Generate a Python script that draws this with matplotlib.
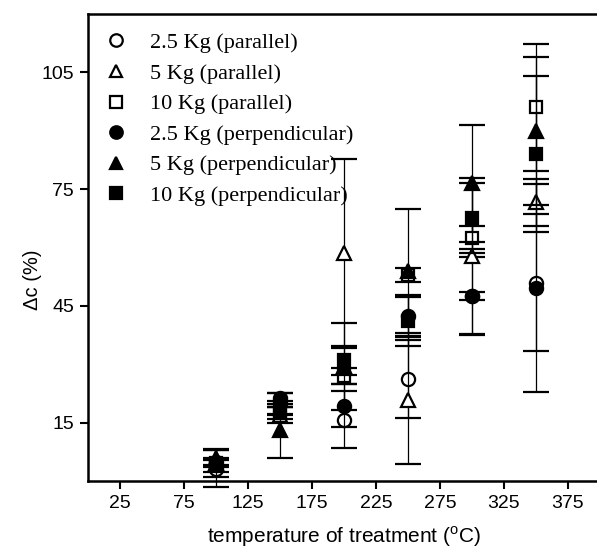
import matplotlib
matplotlib.use("Agg")
import matplotlib.pyplot as plt
from matplotlib.lines import Line2D
import numpy as np

plt.rcParams['mathtext.fontset'] = 'custom'
plt.rcParams['mathtext.rm'] = 'Liberation Sans'
plt.rcParams['font.family'] = ['Liberation Sans', 'DejaVu Sans']

temps = [100, 150, 200, 250, 300, 350]

labels = ["2.5 Kg (parallel)", "5 Kg (parallel)", "10 Kg (parallel)",
          "2.5 Kg (perpendicular)", "5 Kg (perpendicular)", "10 Kg (perpendicular)"]

par_25 = [3.2, 20.0, 15.8, 26.2, 47.5, 51.0]
par_25_err = [4.8, 2.7, 7.3, 10.0, 10.0, 17.5]
par_5 = [4.5, 17.0, 58.5, 20.7, 57.8, 71.6]
par_5_err = [3.6, 2.0, 24.2, 16.3, 20.0, 6.0]
par_10 = [4.5, 18.0, 27.0, 53.0, 62.5, 96.0]
par_10_err = [1.0, 1.0, 2.0, 1.8, 3.0, 16.4]
perp_25 = [4.8, 21.2, 19.3, 42.5, 47.5, 49.5]
perp_25_err = [1.0, 1.5, 5.5, 5.2, 1.0, 26.7]
perp_5 = [6.0, 13.2, 29.5, 54.0, 76.5, 90.0]
perp_5_err = [2.0, 7.4, 11.2, 16.0, 15.0, 19.0]
perp_10 = [4.0, 17.5, 31.0, 41.0, 67.7, 84.0]
perp_10_err = [1.6, 1.6, 3.8, 6.4, 9.0, 20.0]

series = [
    (par_25, par_25_err, 'o', 'white'),
    (par_5, par_5_err, '^', 'white'),
    (par_10, par_10_err, 's', 'white'),
    (perp_25, perp_25_err, 'o', 'black'),
    (perp_5, perp_5_err, '^', 'black'),
    (perp_10, perp_10_err, 's', 'black'),
]

fig = plt.figure(figsize=(5.97, 5.51), dpi=100)
ax = fig.add_axes([88/597, 70/551, 512/597, 467/551])

handles = []
for i, ((vals, errs, m, fc), lab) in enumerate(zip(series, labels)):
    ms = 9.5 if m != 's' else 8.5
    eb = ax.errorbar(temps, vals, yerr=errs, fmt=m, mfc=fc, mec='black', mew=1.6,
                     ms=ms, ecolor='black', elinewidth=0.9, capsize=9.5, capthick=0.9,
                     zorder=3 + i)
    for art in eb.lines[1]:
        art.set_clip_on(False)
    for art in eb.lines[2]:
        art.set_clip_on(False)
    eb.lines[0].set_clip_on(False)
    handles.append(Line2D([], [], linestyle='none', marker=m, mfc=fc, mec='black',
                          mew=1.6, ms=ms - 0.5))

ax.set_xlim(0, 400)
ax.set_ylim(0, 120)
ax.set_xticks([25, 75, 125, 175, 225, 275, 325, 375])
ax.set_yticks([15, 45, 75, 105])
ax.tick_params(direction='out', length=6, width=1.5, labelsize=14, pad=4)
for s in ['left', 'bottom', 'top']:
    ax.spines[s].set_linewidth(1.8)
ax.spines['right'].set_visible(False)

ax.set_xlabel(r'temperature of treatment (${}^{\mathrm{o}}$C)', fontsize=15, labelpad=9)
ax.set_ylabel('Δc (%)', fontsize=14.5)
ax.yaxis.set_label_coords(-0.09, 0.43)

leg = ax.legend(handles, labels, loc='upper left', bbox_to_anchor=(0.038, 0.96),
                frameon=False, prop={'family': 'Liberation Serif', 'size': 16},
                handlelength=0.8, handletextpad=1.1, labelspacing=0.45,
                borderaxespad=0, borderpad=0)

fig.savefig('out.png', dpi=100)
